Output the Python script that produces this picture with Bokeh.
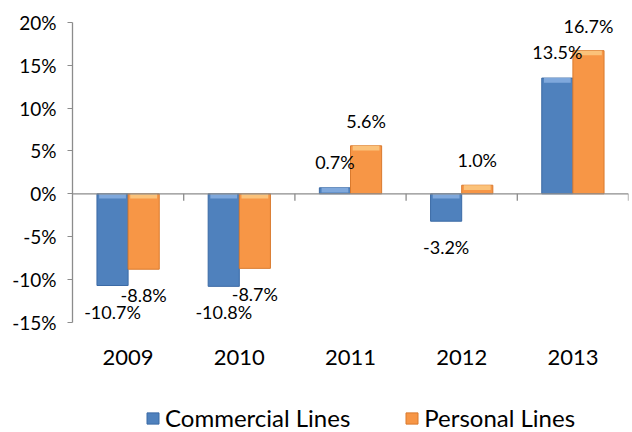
from bokeh.plotting import figure
from bokeh.models import (ColumnDataSource, FactorRange, Range1d, LabelSet, Span,
                          Legend, LegendItem, PrintfTickFormatter, FixedTicker)
from bokeh.transform import dodge
from bokeh.core.properties import value
from bokeh.embed import file_html
from bokeh.resources import INLINE

years = ["2009", "2010", "2011", "2012", "2013"]
commercial = [-10.7, -10.8, 0.7, -3.2, 13.5]
personal = [-8.8, -8.7, 5.6, 1.0, 16.7]
y_ticks = [-15, -10, -5, 0, 5, 10, 15, 20]
y_min, y_max = -15, 20

FONT = "Lato"
BLUE, BLUE_EDGE, BLUE_LIGHT = "#4F81BD", "#3B6AA5", "#7FA8DC"
ORANGE, ORANGE_EDGE, ORANGE_LIGHT = "#F79646", "#D97A2E", "#FBC27A"
GREY = "#8C8C8C"
BEVEL = 0.55  # depth of the light top bevel, in axis units

def fmt(v):
    return f"{v:.1f}%"

def make_src(vals, up, down):
    tops = [max(v, 0) for v in vals]
    return ColumnDataSource(dict(year=years, value=vals,
                                 label=[fmt(v) for v in vals],
                                 yoff=[up if v >= 0 else down for v in vals],
                                 btop=tops, bbot=[t - BEVEL for t in tops]))

src_c = make_src(commercial, 26, -26)
src_p = make_src(personal, 25, -26)

# frame spans the whole height; the y axis is bounded to -15..20
p = figure(width=632, height=432, x_range=FactorRange(*years), y_range=Range1d(-27.85, 21.5),
           output_backend="svg", toolbar_location=None, x_axis_location=None,
           min_border_left=72, min_border_right=4, min_border_top=9, min_border_bottom=0)
p.outline_line_color = None
p.background_fill_color = "white"
p.border_fill_color = "white"
p.grid.visible = False

off = 0.14
w = 0.28
rc = p.vbar(x=dodge("year", -off, range=p.x_range), top="value", bottom=0, width=w,
            source=src_c, fill_color=BLUE, line_color=BLUE_EDGE, line_width=1)
rp = p.vbar(x=dodge("year", off, range=p.x_range), top="value", bottom=0, width=w,
            source=src_p, fill_color=ORANGE, line_color=ORANGE_EDGE, line_width=1)
# light bevel along each bar's top edge
p.vbar(x=dodge("year", -off, range=p.x_range), top="btop", bottom="bbot", width=w * 0.86,
       source=src_c, fill_color=BLUE_LIGHT, line_color=None)
p.vbar(x=dodge("year", off, range=p.x_range), top="btop", bottom="bbot", width=w * 0.86,
       source=src_p, fill_color=ORANGE_LIGHT, line_color=None)

# zero axis line
p.add_layout(Span(location=0, dimension="width", line_color=GREY, line_width=1.3))

# category boundary ticks on the zero line
bsrc = ColumnDataSource(dict(year=years))
p.segment(x0=dodge("year", 0.5, range=p.x_range), y0=0,
          x1=dodge("year", 0.5, range=p.x_range), y1=-0.8,
          source=bsrc, line_color=GREY, line_width=1.3)

# data labels
for src, dx in ((src_c, -off), (src_p, off)):
    p.add_layout(LabelSet(x=dodge("year", dx, range=p.x_range), y="value", text="label",
                          y_offset="yoff", source=src, text_align="center",
                          text_baseline="middle", text_font=value(FONT),
                          text_font_size=value("18px"), text_color="black"))

# category labels below the plot floor
csrc = ColumnDataSource(dict(year=years, floor=[y_min] * len(years)))
p.add_layout(LabelSet(x="year", y="floor", text="year", y_offset=-35, source=csrc,
                      text_align="center", text_baseline="middle", text_font=value(FONT),
                      text_font_size=value("22px"), text_color="black"))

# y axis
p.yaxis.ticker = FixedTicker(ticks=y_ticks)
p.yaxis.bounds = (y_min, y_max)
p.yaxis.formatter = PrintfTickFormatter(format="%d%%")
p.yaxis.axis_line_color = GREY
p.yaxis.axis_line_width = 1.3
p.yaxis.major_tick_line_color = GREY
p.yaxis.major_tick_out = 5
p.yaxis.major_tick_in = 0
p.yaxis.minor_tick_line_color = None
p.yaxis.major_label_text_font = FONT
p.yaxis.major_label_text_font_size = "19px"
p.yaxis.major_label_text_color = "black"
p.yaxis.major_label_standoff = 11

legend = Legend(items=[LegendItem(label="Commercial Lines", renderers=[rc]),
                       LegendItem(label="Personal Lines", renderers=[rp])],
                orientation="horizontal", location=(73, 0),
                label_text_font=FONT, label_text_font_size="24px", label_text_color="black",
                glyph_width=15, glyph_height=14, label_standoff=5, spacing=54,
                padding=0, margin=0, border_line_color=None, background_fill_alpha=0)
p.add_layout(legend, "center")

open("out.html", "w").write(file_html(p, INLINE))
